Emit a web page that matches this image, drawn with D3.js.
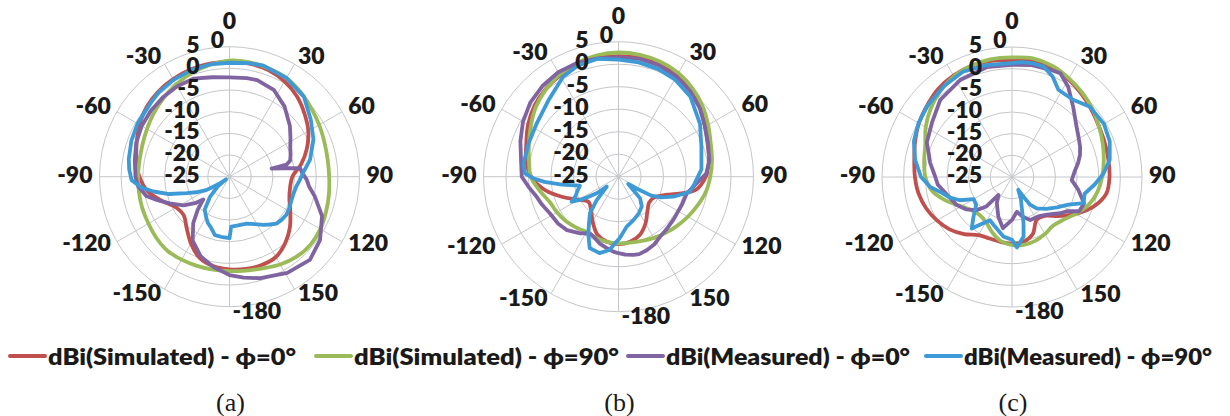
<!DOCTYPE html>
<html>
<head>
<meta charset="utf-8">
<script src="https://cdn.jsdelivr.net/npm/d3@7"></script>
<style>
  body { margin: 0; background: #fff; }
  svg { display: block; }
</style>
</head>
<body>
<svg width="1230" height="416"></svg>
<script>
(function () {
    'use strict';

    // tick labels
    const angleTicks = [0, 30, 60, 90, 120, 150, -180, -150, -120, -90, -60, -30];
    const gainTicks = [5, 0, -5, -10, -15, -20, -25];
    const spokeAngles = d3.range(0, 360, 30);

    const seriesNames = ['dBi(Simulated) - \u03d5=0\u00b0', 'dBi(Simulated) - \u03d5=90\u00b0',
        'dBi(Measured) - \u03d5=0\u00b0', 'dBi(Measured) - \u03d5=90\u00b0'];
    const seriesColors = ['#c0504d', '#9bbb59', '#8064a2', '#3d9ad6'];
    const captions = ['(a)', '(b)', '(c)'];

    // simulated series, one value every 10 degrees from -180
    const simAngles = d3.range(-180, 180, 10);

    const simA_phi0 = [-3.6, -4.0, -5.0, -7.2, -9.6, -11.2, -10.8, -8.5, -5.8, -4.2, -3.2, -2.2, -1.0, 0.0, 0.6, 1.0, 1.3, 1.5,
        1.5, 1.5, 1.2, 0.4, -0.8, -2.4, -4.0, -6.0, -8.2, -10.5, -10.8, -10.3, -8.8, -6.8, -5.0, -3.6, -3.3, -3.4];
    const simA_phi90 = [-3.2, -3.2, -3.1, -2.9, -2.7, -3.0, -3.4, -3.6, -3.8, -3.9, -3.9, -3.6, -3.0, -2.2, -1.3, -0.4, 0.5, 1.2,
        1.8, 1.8, 1.6, 1.3, 0.5, -0.4, -1.1, -1.7, -2.0, -2.0, -1.7, -1.3, -0.8, -0.6, -0.9, -1.6, -2.5, -3.0];

    const simB_phi0 = [-10.0, -10.3, -11.3, -13.5, -15.5, -16.3, -14.8, -11.8, -8.3, -5.6, -4.2, -3.2, -1.8, -0.6, 0.3, 1.0, 1.5, 1.8,
        1.8, 1.8, 1.5, 1.0, 0.0, -1.3, -2.8, -3.9, -4.6, -5.6, -7.7, -13.3, -15.8, -16.1, -15.0, -13.0, -11.2, -10.3];
    const simB_phi90 = [-10.2, -10.3, -10.5, -10.8, -10.3, -9.7, -9.2, -8.7, -7.2, -5.5, -4.8, -3.8, -2.5, -1.0, 0.2, 1.2, 1.9, 2.4,
        2.6, 2.5, 2.2, 1.6, 0.6, -0.6, -2.0, -3.2, -3.9, -4.6, -5.3, -6.3, -7.2, -8.0, -8.7, -9.3, -9.8, -10.1];

    const simC_phi0 = [-9.6, -9.8, -9.9, -9.5, -7.8, -6.2, -5.0, -3.9, -3.1, -2.6, -2.1, -1.2, -0.2, 0.6, 1.5, 2.0, 2.3, 2.2,
        2.0, 2.3, 1.8, 1.0, 0.0, -1.0, -1.8, -2.2, -2.4, -2.5, -2.9, -5.0, -8.0, -11.0, -13.3, -13.6, -11.0, -9.8];
    const simC_phi90 = [-9.3, -10.0, -11.5, -13.0, -13.5, -13.0, -11.5, -8.9, -6.3, -5.0, -4.4, -3.7, -2.0, -0.5, 0.8, 1.8, 2.3, 2.6,
        2.6, 2.8, 2.3, 1.3, 0.3, -0.7, -1.8, -2.7, -3.5, -4.2, -5.0, -6.2, -8.0, -9.6, -10.3, -9.8, -9.3, -9.1];

    // measured series, [angle in degrees, gain in dBi]
    const measA_phi0 = [[-180, -2.3], [-170, -3.8], [-160, -5.5], [-150, -8.0], [-142, -11.4], [-136, -14.5], [-131, -17.0],
        [-128, -15.2], [-122, -12.5], [-114, -9.9], [-108, -7.5], [-103, -5.3], [-96, -3.8], [-90, -3.3], [-80, -2.8],
        [-70, -2.1], [-60, -1.6], [-50, -1.3], [-40, -1.1], [-30, -0.9], [-20, -0.9], [-10, -1.7], [0, -2.1], [10, -1.9],
        [16, -1.8], [27, -2.5], [38, -4.4], [50, -6.8], [58, -8.4], [64, -9.4], [70, -10.0], [75, -10.5], [78, -11.5],
        [79, -15.1], [81, -12.5], [83, -8.6], [87, -8.2], [92, -7.2], [97, -6.5], [103, -4.8], [113, -1.8], [125, 0.5],
        [136, 1.7], [149, 0.9], [163, -0.5], [172, -1.5]];
    const measA_phi90 = [[-180, -10.8], [-172, -11.0], [-166, -11.1], [-160, -12.5], [-155, -13.2], [-150, -14.2],
        [-143, -15.5], [-136, -18.5], [-130, -21.5], [-126, -24.0], [-124, -22.0], [-120, -18.8], [-115, -16.5],
        [-111, -14.4], [-106, -10.5], [-101, -7.1], [-97, -4.5], [-92, -2.4], [-86, -1.8], [-80, -1.4], [-70, -0.9],
        [-60, -0.5], [-47, -0.1], [-40, 0.4], [-30, 0.8], [-20, 1.1], [-10, 1.3], [0, 1.3], [10, 1.6], [17, 1.8],
        [30, 1.3], [43, 0.2], [55, -2.1], [66, -3.8], [78, -6.0], [87, -8.0], [93, -8.8], [98, -9.4], [104, -9.7],
        [111, -9.7], [118, -9.4], [124, -9.2], [130, -9.4], [135, -9.7], [140, -10.6], [145, -11.4], [152, -12.6],
        [160, -13.5], [170, -13.6], [178, -13.5]];

    const measB_phi0 = [[-180, -8.0], [-176, -8.3], [-170, -9.0], [-164, -9.6], [-158, -10.5], [-153, -10.9], [-146, -9.8],
        [-136, -8.5], [-128, -8.0], [-118, -7.7], [-110, -6.9], [-104, -6.3], [-97, -5.0], [-90, -3.5], [-80, -3.0],
        [-70, -1.8], [-60, -0.5], [-50, 0.6], [-40, 1.3], [-30, 1.8], [-20, 1.9], [-10, 1.7], [0, 1.5], [10, 1.6],
        [20, 1.3], [30, 0.7], [40, -0.2], [50, -1.4], [60, -2.8], [70, -3.8], [80, -4.5], [88, -5.5], [95, -7.6],
        [104, -9.4], [114, -9.6], [128, -9.5], [137, -9.2], [145, -8.8], [152, -8.0], [159, -7.5], [165, -7.2],
        [169, -7.3], [175, -7.6]];
    const measB_phi90 = [[-180, -11.0], [-177, -10.2], [-173, -8.6], [-166, -7.5], [-158, -7.9], [-152, -10.7],
        [-147, -13.0], [-142, -14.7], [-137, -17.9], [-130, -21.6], [-127, -18.9], [-124, -17.0], [-121, -15.0],
        [-118, -13.2], [-114, -14.6], [-110, -15.2], [-103, -16.2], [-98, -12.3], [-94, -8.5], [-91, -6.0],
        [-88, -4.2], [-82, -3.7], [-70, -3.7], [-57, -3.3], [-42, -1.9], [-29, 0.4], [-20, 1.3], [-10, 1.6], [0, 1.0],
        [10, 0.8], [20, 0.5], [30, 0.0], [42, -1.1], [57, -3.4], [70, -5.4], [85, -6.5], [95, -8.0], [102, -8.8],
        [110, -12.0], [116, -14.5], [120, -16.6], [123, -20.2], [127, -22.3], [132, -20.6], [135, -18.2], [142, -16.6],
        [151, -15.7], [161, -14.8], [171, -13.7], [177, -12.0]];

    const measC_phi0 = [[-180, -15.1], [-170, -13.0], [-161, -15.3], [-150, -18.0], [-143, -19.8], [-139, -16.0],
        [-133, -13.8], [-125, -12.0], [-117, -10.7], [-104, -9.3], [-96, -7.8], [-90, -7.3], [-80, -5.8], [-74, -5.0],
        [-68, -3.8], [-56, -2.7], [-43, -0.7], [-28, 0.4], [-13, 1.0], [0, 0.9], [10, 1.2], [20, 1.3], [25, 1.4],
        [32, -0.5], [41, -3.5], [52, -6.1], [60, -7.2], [66, -7.8], [72, -8.5], [78, -9.4], [85, -10.5], [93, -11.2],
        [101, -9.4], [110, -7.3], [117, -7.6], [122, -10.1], [127, -11.1], [137, -13.1], [145, -14.0], [157, -14.2],
        [165, -15.5], [172, -16.9]];
    const measC_phi90 = [[-180, -10.5], [-172, -11.1], [-161, -12.9], [-153, -13.8], [-146, -11.7], [-142, -9.9],
        [-136, -12.2], [-128, -14.5], [-120, -14.8], [-114, -11.8], [-108, -9.8], [-103, -8.5], [-97, -6.0], [-90, -4.0],
        [-80, -2.3], [-70, -0.9], [-60, -0.1], [-50, 0.5], [-37, 1.2], [-25, 1.8], [-13, 1.5], [0, 1.3], [5, 1.6],
        [10, 1.7], [16, 1.5], [22, 0.0], [28, -2.2], [38, -2.3], [48, -0.8], [60, -0.5], [70, -1.0], [80, -2.1],
        [88, -3.9], [95, -5.8], [103, -7.8], [110, -7.4], [116, -10.5], [124, -12.5], [133, -14.2], [142, -15.8],
        [147, -17.5], [150, -19.8], [154, -21.7], [158, -19.5], [162, -17.8], [166, -14.0], [169, -11.0], [176, -8.7]];

    const panels = [
        { cx: 229.5, cy: 176.7, R: 130, sim: [simA_phi0, simA_phi90], meas: [measA_phi0, measA_phi90] },
        { cx: 618.5, cy: 176.7, R: 135, sim: [simB_phi0, simB_phi90], meas: [measB_phi0, measB_phi90] },
        { cx: 1012, cy: 177, R: 130, sim: [simC_phi0, simC_phi90], meas: [measC_phi0, measC_phi90] }
    ];

    const labelFont = 'Lato, "Open Sans", "DejaVu Sans", sans-serif';
    const labelStyle = `800 23px ${labelFont}`;
    const svg = d3.select('svg');
    const rad = d => d * Math.PI / 180;

    panels.forEach((p, i) => {
        const g = svg.append('g').attr('transform', `translate(${p.cx},${p.cy})`);
        const r = d3.scaleLinear().domain([-25, 5]).range([0, p.R]).clamp(true);

        // rings and spokes
        g.append('g').selectAll('circle')
            .data(gainTicks.filter(v => v > -25))
            .join('circle')
            .attr('r', d => r(d))
            .attr('fill', 'none')
            .attr('stroke', '#c4c6c9')
            .attr('stroke-width', 1);
        g.append('g').selectAll('line')
            .data(spokeAngles)
            .join('line')
            .attr('x2', d => p.R * Math.sin(rad(d)))
            .attr('y2', d => -p.R * Math.cos(rad(d)))
            .attr('stroke', '#c4c6c9')
            .attr('stroke-width', 1);

        // series
        const simLine = d3.lineRadial()
            .angle((d, k) => rad(simAngles[k]))
            .radius(d => r(d))
            .curve(d3.curveCatmullRomClosed);
        const measLine = d3.lineRadial()
            .angle(d => rad(d[0]))
            .radius(d => r(d[1]))
            .curve(d3.curveLinearClosed);

        const curves = [
            { d: simLine(p.sim[0]), c: seriesColors[0] },
            { d: simLine(p.sim[1]), c: seriesColors[1] },
            { d: measLine(p.meas[0]), c: seriesColors[2] },
            { d: measLine(p.meas[1]), c: seriesColors[3] }
        ];
        g.append('g').selectAll('path')
            .data(curves)
            .join('path')
            .attr('d', d => d.d)
            .attr('fill', 'none')
            .attr('stroke', d => d.c)
            .attr('stroke-width', 3.8)
            .attr('stroke-linejoin', 'round');

        // radial tick labels
        g.append('g').selectAll('text')
            .data(gainTicks)
            .join('text')
            .attr('x', -30)
            .attr('y', d => -r(d))
            .attr('text-anchor', 'end')
            .attr('dominant-baseline', 'middle')
            .style('font', labelStyle)
            .attr('fill', '#1a1a1a')
            .text(d => d);

        // stray "0" that sits next to the top ring label
        g.append('text')
            .attr('x', -12)
            .attr('y', -p.R - 5)
            .attr('text-anchor', 'middle')
            .attr('dominant-baseline', 'middle')
            .style('font', labelStyle)
            .attr('fill', '#1a1a1a')
            .text('0');

        // angle labels
        const rho = p.R + 7;
        g.append('g').selectAll('text')
            .data(angleTicks)
            .join('text')
            .each(function (d) {
                const a = rad(d);
                const s = Math.sin(a);
                const t = d3.select(this);
                if (d === 0) {
                    t.attr('x', 0).attr('y', -p.R - 24).attr('text-anchor', 'middle');
                } else if (d === -180) {
                    t.attr('x', 3).attr('y', p.R + 6).attr('text-anchor', 'start');
                } else {
                    t.attr('x', rho * s).attr('y', -rho * Math.cos(a))
                        .attr('text-anchor', s > 0 ? 'start' : 'end');
                }
            })
            .attr('dominant-baseline', 'middle')
            .style('font', labelStyle)
            .attr('fill', '#1a1a1a')
            .text(d => d);

        // caption
        svg.append('text')
            .attr('x', p.cx + 1)
            .attr('y', 411)
            .attr('text-anchor', 'middle')
            .style('font', '26px "Liberation Serif", "Times New Roman", serif')
            .attr('fill', '#1a1a1a')
            .text(captions[i]);
    });

    // legend
    const legendX = [8, 314, 626, 924];
    const legendTextW = [248, 265, 244, 248];
    const legend = svg.append('g').selectAll('g')
        .data(seriesNames)
        .join('g')
        .attr('transform', (d, i) => `translate(${legendX[i]},356)`);
    legend.append('line')
        .attr('x1', 2).attr('x2', 37)
        .attr('stroke', (d, i) => seriesColors[i])
        .attr('stroke-width', 4)
        .attr('stroke-linecap', 'round');
    legend.append('text')
        .attr('x', 40)
        .attr('y', 9)
        .attr('textLength', (d, i) => legendTextW[i])
        .attr('lengthAdjust', 'spacingAndGlyphs')
        .style('font', `800 23px ${labelFont}`)
        .attr('fill', '#1a1a1a')
        .text(d => d);
})();
</script>
</body>
</html>
